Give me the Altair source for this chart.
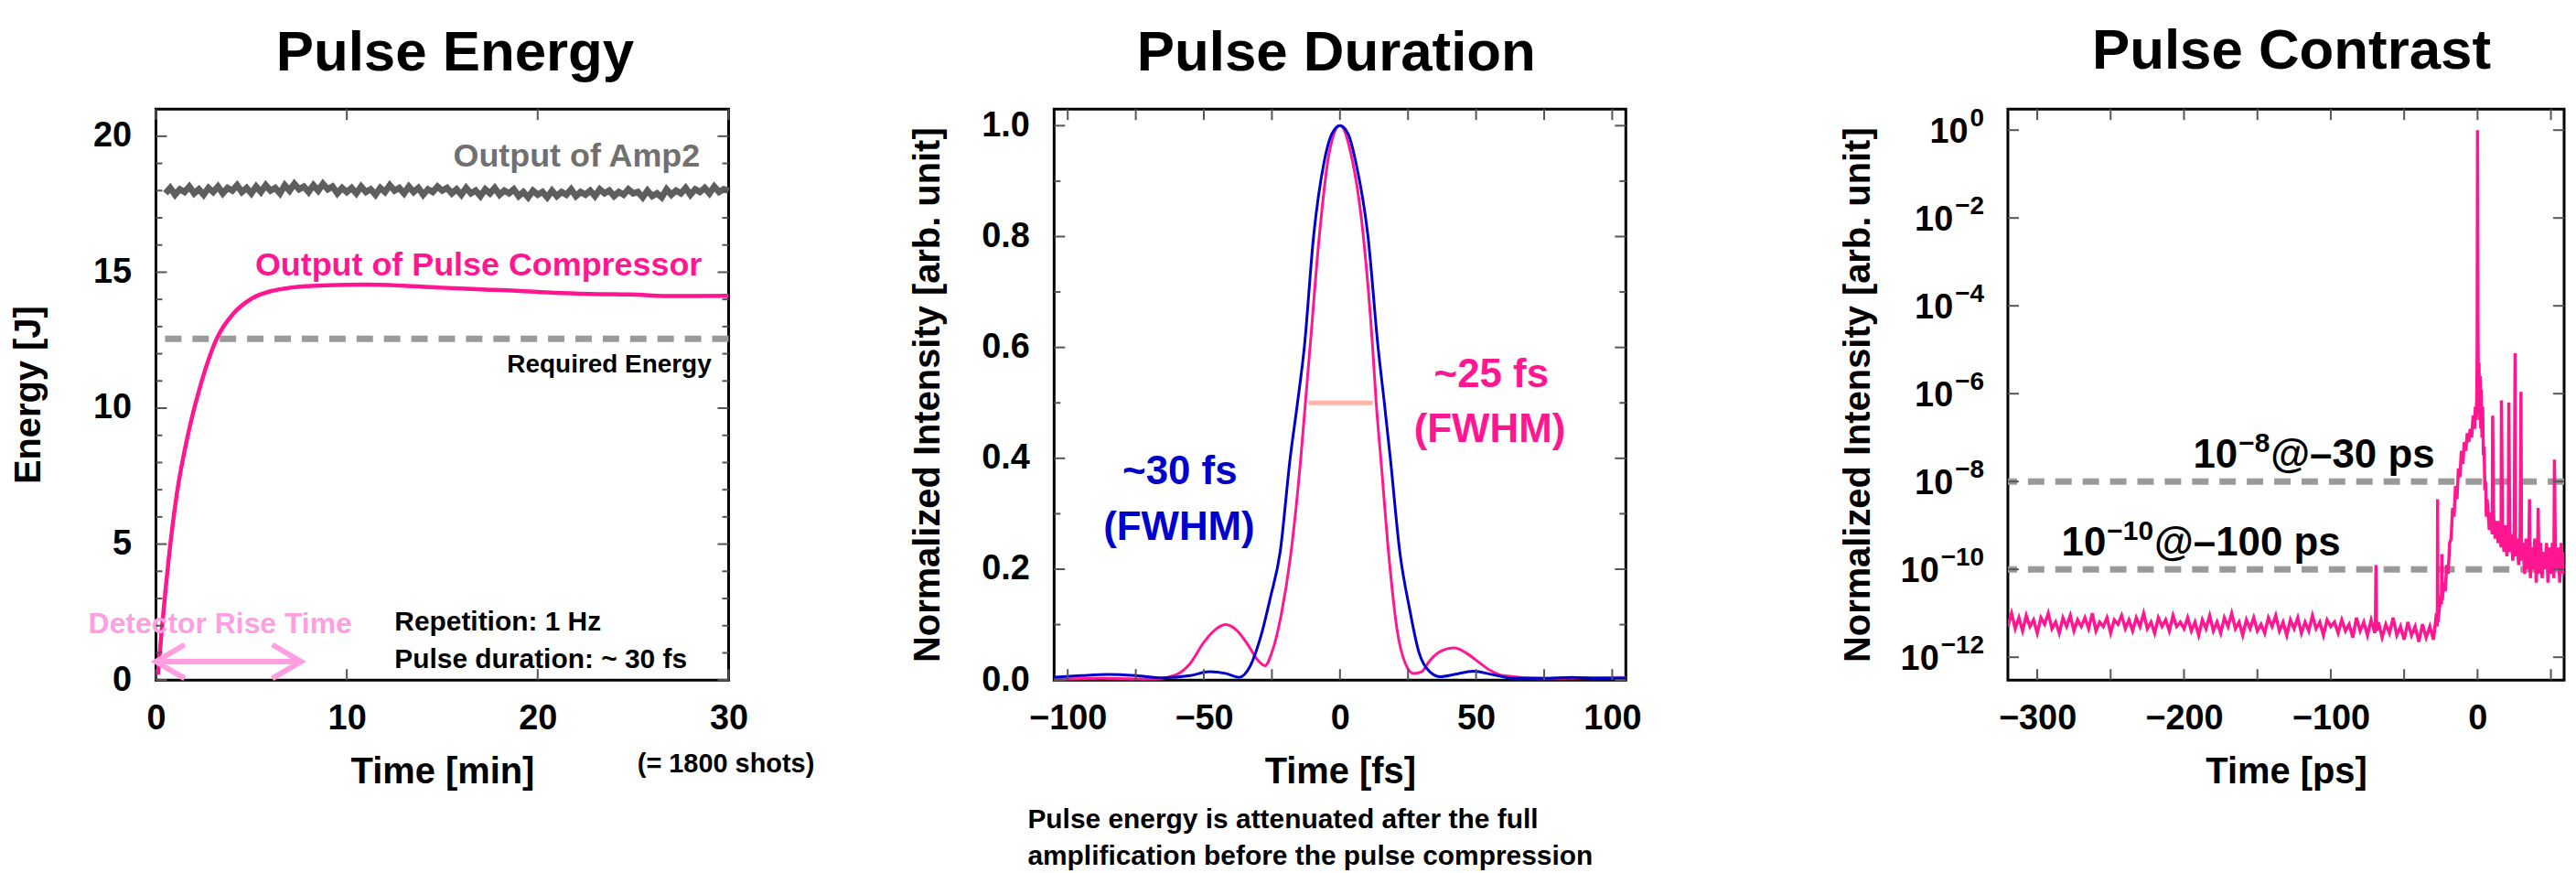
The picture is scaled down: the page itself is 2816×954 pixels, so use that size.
import altair as alt
import pandas as pd

FONT = "Liberation Sans"
PINK = "#ff1690"
LIGHT_PINK = "#ff9ee0"
BLUE = "#0000cc"
AMP_GRAY = "#5e5e5e"
AMP_TEXT = "#707070"
DASH_GRAY = "#9a9a9a"
FWHM_COLOR = "#ffb4a8"
TICK_COLOR = "#555555"

# ---------------- Panel 1 : Pulse Energy ----------------
energy_x_ticks = [0, 10, 20, 30]
energy_y_major = [0, 5, 10, 15, 20]
energy_y_minor = [1, 2, 3, 4, 6, 7, 8, 9, 11, 12, 13, 14, 16, 17, 18, 19]
amp2_time_start = 0.5
amp2_time_step = 0.25
amp2_energy = [
    17.9, 18.1, 17.85, 18.05, 17.95, 18.15, 17.9, 18.05, 17.85, 18.1, 17.95, 18.15, 17.9, 18.1, 18.0, 18.2, 17.95, 18.1, 17.9,
    18.15, 17.95, 18.2, 18.0, 18.1, 17.9, 18.2, 18.0, 18.25, 18.05, 18.15, 17.95, 18.2, 18.0, 18.25, 18.05, 18.15, 17.9, 18.1, 17.95,
    18.1, 17.9, 18.15, 17.95, 18.05, 17.85, 18.1, 17.95, 18.2, 18.0, 18.1, 17.9, 18.15, 17.95, 18.1, 17.85, 18.05, 17.95, 18.15, 18.0,
    18.1, 17.9, 18.05, 17.85, 18.1, 17.9, 18.0, 17.8, 18.05, 17.9, 18.1, 17.85, 18.0, 17.9, 18.05, 17.8, 17.95, 17.75, 18.0, 17.85,
    17.95, 17.75, 18.0, 17.8, 17.95, 17.85, 18.05, 17.8, 17.95, 17.85, 18.0, 17.8, 18.05, 17.9, 18.0, 17.8, 17.95, 17.85, 18.05, 17.9,
    17.95, 17.75, 18.0, 17.8, 17.9, 17.75, 18.05, 17.85, 18.0, 17.9, 18.1, 17.85, 18.05, 17.95, 18.1, 17.9, 18.15, 17.95, 18.05, 18.0,
]
comp_time = [0.1, 0.3, 0.5, 0.68, 1.08, 1.67, 2.27, 3.2, 4.05, 5.04, 6.0, 7.02, 9.0, 11.0, 13.0, 14.95, 17.0, 18.9, 20.9, 22.8, 24.8, 27.2, 30.0]
comp_energy = [0.2, 1.8, 3.3, 4.53, 6.78, 9.0, 10.68, 12.58, 13.47, 14.04, 14.3, 14.43, 14.52, 14.54, 14.5, 14.43, 14.37, 14.32, 14.24, 14.2, 14.18, 14.12, 14.13]
required_energy = 12.55
arrow_time = [0.0, 7.6]
arrow_energy = 0.68
arrow_head = [1.5, 0.62]

# ---------------- Panel 2 : Pulse Duration ----------------
dur_x_ticks = [-100, -75, -50, -25, 0, 25, 50, 75, 100]
dur_x_labels = [-100, -50, 0, 50, 100]
dur_y_major = [0.0, 0.2, 0.4, 0.6, 0.8, 1.0]
dur_y_minor = [0.1, 0.3, 0.5, 0.7, 0.9]
blue_time = [-105, -95, -85, -75, -65, -55, -48, -42, -37, -33, -29, -25.5, -22, -18.3, -15.6, -13.1, -9.7, -6, -3, 0,
             3, 6, 10.3, 14, 16.3, 18.5, 22, 25.5, 29, 33, 37, 42, 49, 56, 64, 75, 85, 95, 105]
blue_int = [0.005, 0.008, 0.01, 0.008, 0.004, 0.008, 0.015, 0.012, 0.005, 0.025, 0.08, 0.15, 0.23, 0.4, 0.5, 0.6, 0.8, 0.93, 0.985, 1.0,
            0.985, 0.93, 0.8, 0.6, 0.5, 0.4, 0.23, 0.13, 0.05, 0.015, 0.006, 0.01, 0.016, 0.01, 0.003, 0.003, 0.005, 0.003, 0.003]
pink_time = [-105, -88, -68, -60, -55, -50, -46, -42, -38, -34, -30, -27.5, -25, -21.5, -18.2, -14.4, -12.7, -11, -7.6, -4, 0,
             4, 8.6, 12, 13.3, 15, 18, 21, 24, 27, 30, 33, 37, 42, 46, 50, 55, 60, 74, 90, 105]
pink_int = [0.001, 0.003, 0.002, 0.01, 0.03, 0.068, 0.09, 0.10, 0.09, 0.065, 0.035, 0.026, 0.05, 0.12, 0.222, 0.4, 0.5, 0.6, 0.8, 0.95, 1.0,
            0.95, 0.8, 0.6, 0.5, 0.4, 0.222, 0.09, 0.03, 0.012, 0.015, 0.035, 0.052, 0.058, 0.05, 0.036, 0.018, 0.008, 0.003, 0.004, 0.005]
fwhm_span = [-11.5, 12.0]
fwhm_level = 0.5

# ---------------- Panel 3 : Pulse Contrast ----------------
con_x_ticks = [-300, -250, -200, -150, -100, -50, 0, 50]
con_x_labels = [-300, -200, -100, 0]
con_y_ticks = [1e-12, 1e-10, 1e-8, 1e-6, 1e-4, 1e-2, 1.0]
con_y_exponents = ["−12", "−10", "−8", "−6", "−4", "−2", "0"]
base_start = -320.0
base_step = 2.5
base_exp = [
    -11.3, -11.0, -11.35, -11.1, -11.4, -11.05, -11.3, -11.15, -11.45, -11.1,
    -11.25, -11.0, -11.35, -11.2, -11.45, -11.1, -11.3, -11.05, -11.4, -11.15,
    -11.3, -11.1, -11.35, -11.0, -11.4, -11.2, -11.3, -11.1, -11.45, -11.15,
    -11.25, -11.05, -11.35, -11.15, -11.4, -11.1, -11.3, -11.0, -11.35, -11.2,
    -11.45, -11.1, -11.3, -11.15, -11.4, -11.05, -11.3, -11.2, -11.35,
    -11.1, -11.4, -11.2, -11.5, -11.15, -11.35, -11.05, -11.4, -11.2, -11.45,
    -11.1, -11.3, -11.0, -11.35, -11.2, -11.5, -11.15, -11.35, -11.1, -11.4,
    -11.25, -11.45, -11.1, -11.3, -11.05, -11.4, -11.2, -11.5, -11.15, -11.35,
    -11.1, -11.45, -11.2, -11.4, -11.05, -11.35, -11.2, -11.5, -11.15, -11.3,
    -11.2, -11.45, -11.15, -11.4, -11.25, -11.55, -11.1, -11.4, -11.2, -11.5,
    -11.15, -11.45, -11.2, -11.55, -11.25, -11.45, -11.1, -11.5, -11.3, -11.6,
    -11.2, -11.5, -11.3, -11.65, -11.25, -11.55, -11.3, -11.6,
]
extra_time = [-69.6, -69.2, -68.8,
              -29, -28, -27.4, -27.2, -27.0, -26, -25, -24.6, -24.3, -24, -23, -22, -21, -20, -19,
              -18, -17, -16, -15, -14, -13, -12, -11, -10, -9, -8, -7, -6, -5, -4, -3, -2, -1.5, -1, -0.5,
              -0.25, 0.0, 0.3, 0.6, 1.0, 1.4, 1.8, 2.2, 2.6, 3.0, 3.5, 4.0, 4.5, 5.0, 5.5, 6.0, 6.5,
              10.3, 16.3, 21.3, 25.6, 29.6, 35.4, 41.3, 52.4]
extra_exp = [-11.3, -9.9, -11.4,
             -11.3, -11.0, -11.3, -8.4, -11.2, -10.9, -10.6, -10.8, -9.65, -10.7, -10.3, -10.5, -9.9, -10.1, -9.4,
             -9.3, -8.6, -8.8, -8.1, -8.4, -7.7, -7.9, -7.3, -7.6, -7.1, -7.3, -6.9, -7.1, -6.8, -7.0, -6.5, -6.8, -6.3, -6.6, -6.1,
             -5.0, 0.0, -4.5, -6.0, -5.3, -6.6, -5.6, -6.8, -5.9, -7.0, -6.3, -7.4, -7.2, -8.2, -8.0, -8.8, -8.4,
             -6.5, -6.15, -6.2, -5.08, -5.96, -8.4, -8.6, -7.5]
tail_start = 7.0
tail_step = 1.0
tail_exp = [
    -8.6, -9.1, -8.7, -9.2, -8.8, -9.3, -8.9, -9.4, -8.9, -9.5,
    -9.0, -9.6, -9.0, -9.7, -9.1, -9.6, -9.2, -9.8, -9.1, -9.7,
    -9.3, -9.9, -9.2, -9.8, -9.4, -10.1, -9.3, -10.0, -9.4, -10.2,
    -9.5, -10.0, -9.3, -10.3, -9.5, -10.1, -9.4, -10.2, -9.6, -10.0,
    -9.4, -10.3, -9.5, -10.1, -9.4, -10.2, -9.6, -10.0, -9.5, -10.3,
    -9.4, -10.1, -9.6, -10.2, -9.5,
]
contrast_levels = [1e-8, 1e-10]
# annotations: (time, intensity, exponent, rest)
contrast_notes = [(-193.8, 10 ** -7.68, "−8", "@–30 ps"), (-283.5, 10 ** -9.69, "−10", "@–100 ps")]


# ---------------- helpers ----------------
def text_width(s, size):
    # Arial / Liberation Sans bold advance widths (em)
    w = {"−": 0.584, "@": 0.975, "–": 0.556, " ": 0.278, "p": 0.611, "s": 0.556}
    return sum(w.get(c, 0.556) for c in s) * size


def x_enc(domain, values, title, fmt=None):
    kw = dict(values=values, title=title, domain=False, ticks=False, tickSize=0, grid=False,
              labelFont=FONT, labelFontSize=38, labelFontWeight="bold", labelColor="black",
              labelPadding=24, labelFlush=False, labelOverlap=False,
              titleFont=FONT, titleFontSize=40, titleFontWeight="bold", titleColor="black",
              titleY=113, titleBaseline="alphabetic")
    if fmt:
        kw["format"] = fmt
    return alt.X("x:Q", scale=alt.Scale(domain=domain, nice=False, zero=False), axis=alt.Axis(**kw))


def y_enc(domain, values, title, H, title_x, fmt=None, labels=True, log=False):
    kw = dict(values=values, title=title, domain=False, ticks=False, tickSize=0, grid=False, labels=labels,
              labelFont=FONT, labelFontSize=38, labelFontWeight="bold", labelColor="black",
              labelPadding=27, labelFlush=False, labelOverlap=False,
              titleFont=FONT, titleFontSize=40, titleFontWeight="bold", titleColor="black",
              titleX=title_x, titleY=H / 2, titleAngle=270, titleAlign="center", titleBaseline="middle")
    if fmt:
        kw["format"] = fmt
    if log:
        sc = alt.Scale(type="log", domain=domain, nice=False)
    else:
        sc = alt.Scale(domain=domain, nice=False, zero=False)
    return alt.Y("y:Q", scale=sc, axis=alt.Axis(**kw))


def tick_layers(xs, ys, X, Y, W, H, L):
    out = []
    if xs:
        base = alt.Chart(pd.DataFrame({"x": xs})).mark_rule(color=TICK_COLOR, strokeWidth=2)
        out.append(base.encode(x=X, y=alt.value(H), y2=alt.value(H - L)))
        out.append(base.encode(x=X, y=alt.value(0), y2=alt.value(L)))
    if ys:
        base = alt.Chart(pd.DataFrame({"y": ys})).mark_rule(color=TICK_COLOR, strokeWidth=2)
        out.append(base.encode(y=Y, x=alt.value(0), x2=alt.value(L)))
        out.append(base.encode(y=Y, x=alt.value(W), x2=alt.value(W - L)))
    return out


def note(x, y, text, X, Y, color, size, align, dx=0, dy=0):
    df = pd.DataFrame({"x": [x], "y": [y], "label": [text]})
    return alt.Chart(df).mark_text(align=align, baseline="alphabetic", font=FONT, fontWeight="bold",
                                   fontSize=size, color=color, dx=dx, dy=dy).encode(x=X, y=Y, text="label:N")


def pixel_note(px, py, text, size, align="left"):
    df = pd.DataFrame({"label": [text]})
    return alt.Chart(df).mark_text(align=align, baseline="alphabetic", font=FONT, fontWeight="bold",
                                   fontSize=size, color="black").encode(x=alt.value(px), y=alt.value(py), text="label:N")


def panel_title(text, dx):
    return alt.TitleParams(text=text, font=FONT, fontSize=62, fontWeight="bold", color="black",
                           anchor="middle", frame="group", baseline="alphabetic", offset=-21, dx=dx)


H = 626

# ---------------- Panel 1 ----------------
W1 = 628
X1 = x_enc([0, 30], energy_x_ticks, "Time [min]")
Y1 = y_enc([0, 21], energy_y_major, "Energy [J]", H, -139)

amp2_df = pd.DataFrame({"x": [amp2_time_start + amp2_time_step * i for i in range(len(amp2_energy))],
                        "y": amp2_energy})
comp_df = pd.DataFrame({"x": comp_time, "y": comp_energy})
hd_t, hd_e = arrow_head
arrow_df = pd.DataFrame({
    "part": ["shaft", "shaft", "left", "left", "left", "right", "right", "right"],
    "o": [0, 1, 0, 1, 2, 0, 1, 2],
    "x": [arrow_time[0], arrow_time[1],
          arrow_time[0] + hd_t, arrow_time[0], arrow_time[0] + hd_t,
          arrow_time[1] - hd_t, arrow_time[1], arrow_time[1] - hd_t],
    "y": [arrow_energy, arrow_energy,
          arrow_energy + hd_e, arrow_energy, arrow_energy - hd_e,
          arrow_energy + hd_e, arrow_energy, arrow_energy - hd_e],
})

p1_layers = [
    alt.Chart(pd.DataFrame({"y": [required_energy]})).mark_rule(color=DASH_GRAY, strokeWidth=7, strokeDash=[18, 12]).encode(y=Y1),
    alt.Chart(amp2_df).mark_line(color=AMP_GRAY, strokeWidth=7).encode(x=X1, y=Y1),
    alt.Chart(comp_df).mark_line(color=PINK, strokeWidth=4.5, interpolate="monotone").encode(x=X1, y=Y1),
    alt.Chart(arrow_df).mark_line(color=LIGHT_PINK, strokeWidth=6, strokeJoin="miter").encode(
        x=X1, y=Y1, detail="part:N", order="o:Q"),
    note(28.5, 18.9, "Output of Amp2", X1, Y1, AMP_TEXT, 36, "right"),
    note(28.6, 14.88, "Output of Pulse Compressor", X1, Y1, PINK, 36, "right"),
    note(29.1, 11.3, "Required Energy", X1, Y1, "black", 28, "right"),
    note(12.5, 1.81, "Repetition: 1 Hz", X1, Y1, "black", 30, "left"),
    note(12.5, 0.44, "Pulse duration: ~ 30 fs", X1, Y1, "black", 30, "left"),
    note(-3.54, 1.71, "Detector Rise Time", X1, Y1, LIGHT_PINK, 32, "left"),
    pixel_note(528, 727, "(= 1800 shots)", 29),
]
p1_layers += tick_layers(energy_x_ticks, energy_y_major, X1, Y1, W1, H, 12)
p1_layers += tick_layers([], energy_y_minor, X1, Y1, W1, H, 7)
p1 = alt.layer(*p1_layers).properties(width=W1, height=H, title=panel_title("Pulse Energy", 14))

# ---------------- Panel 2 ----------------
W2 = 627
X2 = x_enc([-105, 105], dur_x_labels, "Time [fs]")
Y2 = y_enc([0, 1.03], dur_y_major, "Normalized Intensity [arb. unit]", H, -138, fmt=".1f")

blue_df = pd.DataFrame({"x": blue_time, "y": blue_int})
pink_df = pd.DataFrame({"x": pink_time, "y": pink_int})
fwhm_df = pd.DataFrame({"x": [fwhm_span[0]], "x2": [fwhm_span[1]], "y": [fwhm_level]})

p2_layers = [
    alt.Chart(fwhm_df).mark_rule(color=FWHM_COLOR, strokeWidth=5).encode(x=X2, x2="x2:Q", y=Y2),
    alt.Chart(pink_df).mark_line(color=PINK, strokeWidth=3, interpolate="monotone").encode(x=X2, y=Y2),
    alt.Chart(blue_df).mark_line(color=BLUE, strokeWidth=3, interpolate="monotone").encode(x=X2, y=Y2),
    note(-58.8, 0.354, "~30 fs", X2, Y2, BLUE, 44, "center"),
    note(-59.1, 0.253, "(FWHM)", X2, Y2, BLUE, 44, "center"),
    note(55.6, 0.529, "~25 fs", X2, Y2, PINK, 44, "center"),
    note(55.0, 0.429, "(FWHM)", X2, Y2, PINK, 44, "center"),
    pixel_note(-29, 788, "Pulse energy is attenuated after the full", 30),
    pixel_note(-29, 828, "amplification before the pulse compression", 30),
]
p2_layers += tick_layers(dur_x_ticks, dur_y_major, X2, Y2, W2, H, 12)
p2_layers += tick_layers([], dur_y_minor, X2, Y2, W2, H, 7)
p2 = alt.layer(*p2_layers).properties(width=W2, height=H, title=panel_title("Pulse Duration", -4))

# ---------------- Panel 3 ----------------
W3 = 610
X3 = x_enc([-320, 59], con_x_labels, "Time [ps]")
Y3 = y_enc([10 ** -12.52, 10 ** 0.48], con_y_ticks, "Normalized Intensity [arb. unit]", H, -164,
           labels=False, log=True)

con_time = [base_start + base_step * i for i in range(len(base_exp))] + extra_time + \
           [tail_start + tail_step * i for i in range(len(tail_exp))]
con_exp = base_exp + extra_exp + tail_exp
con_df = pd.DataFrame({"x": con_time, "y": [10 ** e for e in con_exp]}).sort_values("x")

p3_layers = [
    alt.Chart(pd.DataFrame({"y": contrast_levels})).mark_rule(color=DASH_GRAY, strokeWidth=7, strokeDash=[18, 12]).encode(y=Y3),
    alt.Chart(con_df).mark_line(color=PINK, strokeWidth=3.5, clip=True).encode(x=X3, y=Y3),
]
# superscript annotations: "10" + exponent + rest
NOTE_BIG, NOTE_SUP = 44, 30
for t, v, e, rest in contrast_notes:
    w10 = text_width("10", NOTE_BIG)
    we = text_width(e, NOTE_SUP)
    p3_layers.append(note(t, v, "10", X3, Y3, "black", NOTE_BIG, "left"))
    p3_layers.append(note(t, v, e, X3, Y3, "black", NOTE_SUP, "left", dx=w10 + 1, dy=-17))
    p3_layers.append(note(t, v, rest, X3, Y3, "black", NOTE_BIG, "left", dx=w10 + we + 2))

# y tick labels as 10 with superscript exponents
LAB_BIG, LAB_SUP, LAB_PAD = 38, 28, 26
exp_df = pd.DataFrame({"y": con_y_ticks, "label": con_y_exponents})
p3_layers.append(alt.Chart(exp_df).mark_text(align="right", baseline="alphabetic", font=FONT, fontWeight="bold",
                                             fontSize=LAB_SUP, color="black", dy=-4).encode(
    x=alt.value(-LAB_PAD), y=Y3, text="label:N"))
for w in sorted(set(text_width(e, LAB_SUP) for e in con_y_exponents)):
    rows = [(v, "10") for v, e in zip(con_y_ticks, con_y_exponents) if text_width(e, LAB_SUP) == w]
    df = pd.DataFrame({"y": [r[0] for r in rows], "label": [r[1] for r in rows]})
    p3_layers.append(alt.Chart(df).mark_text(align="right", baseline="alphabetic", font=FONT, fontWeight="bold",
                                             fontSize=LAB_BIG, color="black", dy=14).encode(
        x=alt.value(-LAB_PAD - w - 2), y=Y3, text="label:N"))

p3_layers += tick_layers(con_x_ticks, con_y_ticks, X3, Y3, W3, H, 12)
p3 = alt.layer(*p3_layers).properties(width=W3, height=H, title=panel_title("Pulse Contrast", 6))

inner = alt.hconcat(p1, p2, spacing=101)
chart = alt.hconcat(inner, p3, spacing=214).properties(
    padding={"left": 2, "top": 14, "right": 0, "bottom": 0}
).configure(font=FONT).configure_view(stroke="black", strokeWidth=3)

chart.save("out.html", embed_options={"renderer": "svg", "actions": False})
